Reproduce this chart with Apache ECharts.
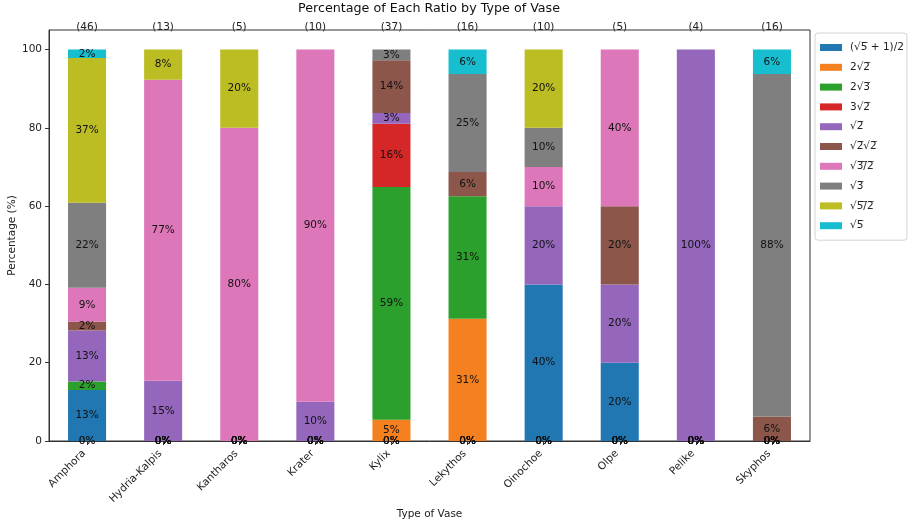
<!DOCTYPE html>
<html>
<head>
<meta charset="utf-8">
<script src="https://cdn.jsdelivr.net/npm/echarts@6/dist/echarts.min.js"></script>
<style>
  html, body { margin: 0; padding: 0; background: #fff; }
  #chart { width: 912px; height: 526px; }
</style>
</head>
<body>
<div id="chart"></div>
<script>
// Vase types along the x axis and the number of vases of each type
const vaseTypes = ['Amphora', 'Hydria-Kalpis', 'Kantharos', 'Krater', 'Kylix',
                   'Lekythos', 'Oinochoe', 'Olpe', 'Pelike', 'Skyphos'];
const vaseTotals = [46, 13, 5, 10, 37, 16, 10, 5, 4, 16];

// Proportion names (U+0305 draws the radical's overbar)
const ratioNames = [
  '(√5\u0305 + 1)/2',
  '2√2\u0305',
  '2√3\u0305',
  '3√2\u0305',
  '√2\u0305',
  '√2\u0305√2\u0305',
  '√3\u0305/\u03052\u0305',
  '√3\u0305',
  '√5\u0305/\u03052\u0305',
  '√5\u0305'
];

// Number of vases of each type showing each ratio
const countGolden   = [6, 0, 0, 0, 0, 0, 4, 1, 0, 0];
const countTwoRt2   = [0, 0, 0, 0, 2, 5, 0, 0, 0, 0];
const countTwoRt3   = [1, 0, 0, 0, 22, 5, 0, 0, 0, 0];
const countThreeRt2 = [0, 0, 0, 0, 6, 0, 0, 0, 0, 0];
const countRt2      = [6, 2, 0, 1, 1, 0, 2, 1, 4, 0];
const countRt2Rt2   = [1, 0, 0, 0, 5, 1, 0, 1, 0, 1];
const countRt3Half  = [4, 10, 4, 9, 0, 0, 1, 2, 0, 0];
const countRt3      = [10, 0, 0, 0, 1, 4, 1, 0, 0, 14];
const countRt5Half  = [17, 1, 1, 0, 0, 0, 2, 0, 0, 0];
const countRt5      = [1, 0, 0, 0, 0, 1, 0, 0, 0, 1];

const yTicks = [0, 20, 40, 60, 80, 100];

const ratioCounts = [countGolden, countTwoRt2, countTwoRt3, countThreeRt2, countRt2,
                     countRt2Rt2, countRt3Half, countRt3, countRt5Half, countRt5];
const palette = ['#2077b2', '#f5801f', '#2ca02c', '#d62728', '#9467bd',
                 '#8c564b', '#dd77ba', '#7f7f7f', '#bcbd22', '#17becf'];

const FONT = 'DejaVu Sans';
const FS = 10.5;
const pct = (c, i) => c / vaseTotals[i] * 100;

const series = [];
ratioCounts.forEach((counts, s) => {
  series.push({
    name: ratioNames[s],
    type: 'bar',
    stack: 'share',
    barWidth: '50%',
    itemStyle: { color: palette[s] },
    label: {
      show: true,
      position: 'inside',
      color: '#111',
      fontFamily: FONT,
      fontSize: FS,
      formatter: p => Math.round(p.value) + '%'
    },
    data: counts.map((c, i) => c > 0 ? pct(c, i) : '-')
  });
});
// Empty shares are labelled on the baseline
ratioCounts.forEach((counts, s) => {
  series.push({
    type: 'scatter',
    symbolSize: 0,
    silent: true,
    z: 5,
    label: {
      show: true,
      position: 'inside',
      color: '#111',
      fontFamily: FONT,
      fontSize: FS,
      formatter: '0%'
    },
    data: counts.map((c, i) => c === 0 ? [vaseTypes[i], 0] : null).filter(d => d)
  });
});

const chart = echarts.init(document.getElementById('chart'), null, { renderer: 'canvas' });
chart.setOption({
  animation: false,
  backgroundColor: '#fff',
  textStyle: { fontFamily: FONT },
  title: {
    text: 'Percentage of Each Ratio by Type of Vase',
    left: 298,
    top: 2,
    padding: 0,
    textStyle: { fontFamily: FONT, fontSize: 12.7, fontWeight: 'normal', color: '#111' }
  },
  legend: {
    data: ratioNames,
    orient: 'vertical',
    left: 815,
    top: 33,
    padding: [9, 3, 9, 5],
    itemWidth: 22,
    itemHeight: 7,
    itemGap: 8.8,
    icon: 'rect',
    borderColor: '#d4d4d4',
    borderWidth: 1,
    borderRadius: 3,
    textStyle: { fontFamily: FONT, fontSize: FS, color: '#222', padding: [0, 0, 0, 3] }
  },
  grid: {
    left: 49, right: 102, top: 30, bottom: 85,
    outerBoundsMode: 'none',
    containLabel: false,
    show: true, borderColor: '#333', borderWidth: 1, backgroundColor: 'transparent'
  },
  xAxis: [{
    type: 'category',
    data: vaseTypes,
    position: 'bottom',
    name: 'Type of Vase',
    nameLocation: 'middle',
    nameGap: 68,
    nameMoveOverlap: false,
    nameTextStyle: { fontFamily: FONT, fontSize: FS, color: '#222' },
    axisLine: { show: true, lineStyle: { color: '#333' } },
    axisTick: { show: true, alignWithLabel: true, length: 4, lineStyle: { color: '#333' } },
    axisLabel: { rotate: 45, fontFamily: FONT, fontSize: FS, color: '#222', margin: 8,
                 padding: [0, 4, 0, 0], interval: 0 }
  }, {
    type: 'category',
    data: vaseTotals.map(n => '(' + n + ')'),
    position: 'top',
    axisLine: { show: false },
    axisTick: { show: false },
    axisLabel: { fontFamily: FONT, fontSize: FS, color: '#222', margin: -3, interval: 0 }
  }],
  yAxis: {
    type: 'value',
    min: 0,
    max: 105,
    interval: 20,
    name: 'Percentage (%)',
    nameLocation: 'middle',
    nameGap: 31,
    nameMoveOverlap: false,
    nameTextStyle: { fontFamily: FONT, fontSize: FS, color: '#222' },
    splitLine: { show: false },
    axisLine: { show: true, lineStyle: { color: '#333' } },
    axisTick: { show: true, length: 4, lineStyle: { color: '#333' }, customValues: yTicks },
    axisLabel: { fontFamily: FONT, fontSize: FS, color: '#222', margin: 7, customValues: yTicks }
  },
  series: series
});
</script>
</body>
</html>
